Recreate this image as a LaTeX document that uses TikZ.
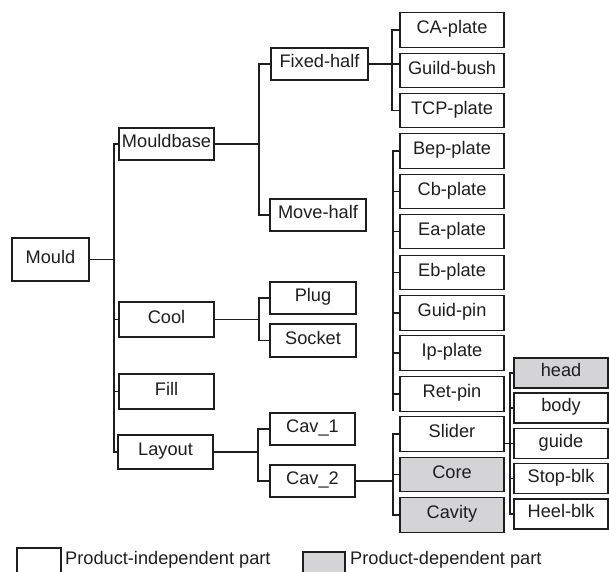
\documentclass[tikz,border=0pt]{standalone}
\usepackage{fontspec}
\setmainfont{Liberation Sans}
\definecolor{pd}{RGB}{212,212,214}
\definecolor{ink}{RGB}{30,30,30}
\begin{document}
\begin{tikzpicture}[x=1pt,y=-1pt,
  every node/.style={font=\fontsize{18.2}{20}\selectfont, text=ink},
  box/.style={draw=ink, line width=1.2pt, inner sep=0pt, text height=0.72em, text depth=0pt, align=center},
  gbox/.style={box, fill=pd},
  wire/.style={draw=ink, line width=1.2pt}]
\useasboundingbox (0,0) rectangle (609,571);
% level 0/1
\node[box, minimum width=77, minimum height=43] (mould) at (50.5,259.5) {Mould};
\node[box, minimum width=95, minimum height=32] (mbase) at (166.5,144) {Mouldbase};
\node[box, minimum width=95, minimum height=35] (cool) at (166.5,319.5) {Cool};
\node[box, minimum width=95, minimum height=35] (fill) at (166.5,391.5) {Fill};
\node[box, minimum width=95, minimum height=34] (layout) at (165.5,452) {Layout};
% level 2
\node[box, minimum width=97, minimum height=32] (fixed) at (319.5,64) {Fixed-half};
\node[box, minimum width=96, minimum height=32] (move) at (318,215) {Move-half};
\node[box, minimum width=86, minimum height=32] (plug) at (313,298) {Plug};
\node[box, minimum width=86, minimum height=33] (socket) at (313,340.5) {Socket};
\node[box, minimum width=85, minimum height=32] (cav1) at (312.5,429) {Cav\_1};
\node[box, minimum width=85, minimum height=32] (cav2) at (312.5,481) {Cav\_2};
% level 3
\tikzset{rc/.style={box, minimum width=104, minimum height=34.5}}
\node[rc] (ca) at (452,30) {CA-plate};
\node[rc] (gb) at (452,70.5) {Guild-bush};
\node[rc] (tcp) at (452,110.5) {TCP-plate};
\node[rc] (bep) at (452,151) {Bep-plate};
\node[rc] (cb) at (452,191.5) {Cb-plate};
\node[rc] (ea) at (452,231.5) {Ea-plate};
\node[rc] (eb) at (452,272.5) {Eb-plate};
\node[rc] (gp) at (452,313) {Guid-pin};
\node[rc] (ip) at (452,353) {Ip-plate};
\node[rc] (ret) at (452,394) {Ret-pin};
\node[rc] (slider) at (452,434) {Slider};
\node[rc, fill=pd] (core) at (452,474.5) {Core};
\node[rc, fill=pd] (cavity) at (452,515) {Cavity};
% level 4
\tikzset{fc/.style={box, minimum width=94, minimum height=30}}
\node[fc, fill=pd] (head) at (561,373) {head};
\node[fc] (body) at (561,408) {body};
\node[fc] (guide) at (561,443.5) {guide};
\node[fc] (stop) at (561,478.5) {Stop-blk};
\node[fc] (heel) at (561,514) {Heel-blk};
% bus coordinates
\coordinate (b1) at (114,0);
\coordinate (b2) at (259,0);
\coordinate (b3) at (392,0);
\coordinate (b4) at (393,0);
\coordinate (b4end) at (393,411);
\coordinate (b5) at (259,0);
\coordinate (b6) at (258,0);
\coordinate (b7) at (393,0);
\coordinate (b8) at (510,0);
% connectors
\draw[wire] (mbase.west) -| (b1 |- layout.west) -- (layout.west);
\draw[wire] (mould.east) -- (mould.east -| b1);
\draw[wire] (cool.west) -- (cool.west -| b1);
\draw[wire] (fill.west) -- (fill.west -| b1);
\draw[wire] (fixed.west) -| (b2 |- move.west) -- (move.west);
\draw[wire] (mbase.east) -- (mbase.east -| b2);
\draw[wire] (ca.west) -| (b3 |- tcp.west) -- (tcp.west);
\draw[wire] (fixed.east) -- (fixed.east -| gb.west);
\draw[wire] (bep.west) -| (b4end);
\foreach \n in {cb,ea,eb,gp,ip,ret} \draw[wire] (\n.west) -- (\n.west -| b4);
\draw[wire] (plug.west) -| (b5 |- socket.west) -- (socket.west);
\draw[wire] (cool.east) -- (cool.east -| b5);
\draw[wire] (cav1.west) -| (b6 |- cav2.west) -- (cav2.west);
\draw[wire] (layout.east) -- (layout.east -| b6);
\draw[wire] (slider.west) -| (b7 |- cavity.west) -- (cavity.west);
\draw[wire] (core.west) -- (core.west -| b7);
\draw[wire] (cav2.east) -- (cav2.east -| b7);
\draw[wire] (head.west) -| (b8 |- heel.west) -- (heel.west);
\draw[wire] (slider.east |- guide.west) -- (guide.west);
\draw[wire] (body.west) -- (body.west -| b8);
\draw[wire] (stop.west) -- (stop.west -| b8);
% legend
\node[box, minimum width=44, minimum height=34] (leg1) at (39,565) {};
\node[anchor=west, inner sep=0pt, text height=0.72em, text depth=0pt] (leg1t) at (65,560.5) {Product-independent part};
\node[gbox, minimum width=42, minimum height=34] (leg2) at (324,569) {};
\node[anchor=west, inner sep=0pt, text height=0.72em, text depth=0pt] (leg2t) at (350,561) {Product-dependent part};
\end{tikzpicture}
\end{document}
